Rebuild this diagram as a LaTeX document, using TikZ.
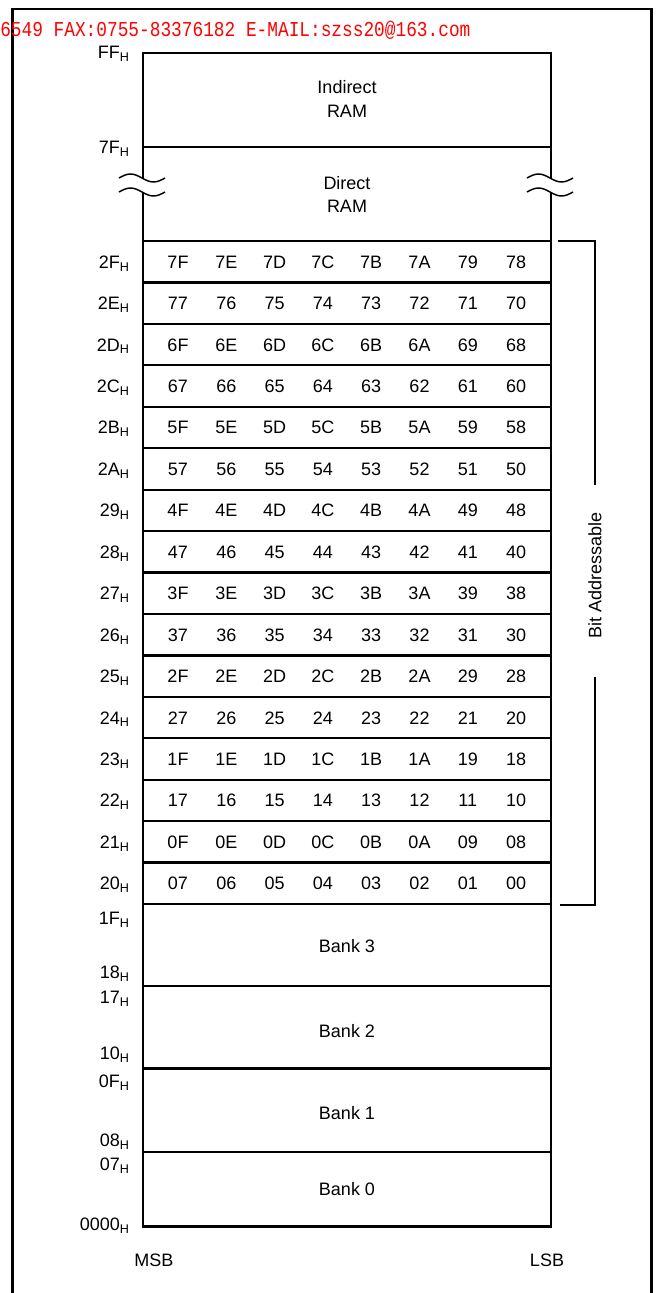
\documentclass[tikz,border=0pt]{standalone}
\usepackage{fontspec}
\usepackage{graphicx}
\setmainfont{Liberation Sans}
\newfontfamily\monofont{Liberation Mono}
\usetikzlibrary{positioning}

\newcommand{\hx}[1]{#1\textsubscript{H}}

\begin{document}
\begin{tikzpicture}[
    x=0.75pt, y=-0.75pt,
    every node/.style={font=\fontsize{13.5pt}{16pt}\selectfont},
    txt/.style={inner sep=0pt, text height=9.7pt, text depth=0pt},
    addr/.style={txt, anchor=east},
    area/.style={align=center, inner sep=0pt, font=\fontsize{13.5pt}{17.6pt}\selectfont},
    wall/.style={line width=1.7pt},
    brk/.style={line width=1.1pt},
    brace/.style={line width=1.5pt}
]
\useasboundingbox (0,0) rectangle (657,1293);

% Frame
\draw[line width=2pt] (12.5,1293) |- (651.5,9) -- (651.5,1293);

% Header
\node[anchor=west, inner sep=0pt, text=red, font=\monofont\fontsize{15.9pt}{18pt}\selectfont]
    (hdr) at (0,30.5) {\scalebox{0.84}[1]{6549 FAX:0755-83376182 E-MAIL:szss20@163.com}};

% RAM box and rows
\draw[wall] (143,53) rectangle (551,1226.5);
\foreach \y in {147,986,1068.5,1152}
    \draw[wall] (143,\y) -- (551,\y);
\foreach \k in {0,...,16}
    \draw[wall] (143,{241+41.44*\k}) -- (551,{241+41.44*\k});

% Break marks
\foreach \ex in {143,551}{
    \fill[white] ({\ex-24},178) sin ({\ex-12.5},174) cos ({\ex-1},178) sin ({\ex+10.5},182) cos ({\ex+22},178)
        -- ({\ex+22},192) sin ({\ex+10.5},196) cos ({\ex-1},192) sin ({\ex-12.5},188) cos ({\ex-24},192) -- cycle;
    \draw[brk] ({\ex-24},178) sin ({\ex-12.5},174) cos ({\ex-1},178) sin ({\ex+10.5},182) cos ({\ex+22},178);
    \draw[brk] ({\ex-24},192) sin ({\ex-12.5},188) cos ({\ex-1},192) sin ({\ex+10.5},196) cos ({\ex+22},192);
}

% Areas
\node[area] (ind) at (347,99) {Indirect\\RAM};
\node[area] (dir) at (347,194.7) {Direct\\RAM};
\node[txt] (bank3) at (347,946) {Bank 3};
\node[txt] (bank2) at (347,1030.7) {Bank 2};
\node[txt] (bank1) at (347,1113) {Bank 1};
\node[txt] (bank0) at (347,1189) {Bank 0};

% Bit addresses
\foreach \k in {0,...,15}{
    \pgfmathsetmacro\yc{261.7+41.44*\k}
    \pgfmathtruncatemacro\byte{47-\k}
    \pgfmathparse{Hex(\byte)}\let\bytehex\pgfmathresult
    \node[addr] (a\bytehex) at (130,\yc) {\hx{\bytehex}};
    \foreach \j in {0,...,7}{
        \pgfmathtruncatemacro\bit{8*(15-\k)+7-\j}
        \pgfmathparse{Hex(\bit)}
        \ifnum\bit<16 \edef\bitlbl{0\pgfmathresult}\else\edef\bitlbl{\pgfmathresult}\fi
        \node[txt] (b\bitlbl) at ({178+48.3*\j},\yc) {\bitlbl};
    }
}

% Byte addresses
\foreach \lbl/\y in {FF/52,7F/147.5,1F/918,18/972,17/997,10/1053,0F/1081,08/1140,07/1164,0000/1224}
    \node[addr] (a\lbl) at (130,\y) {\hx{\lbl}};

% Bracket
\node[txt, rotate=90] (bitadr) at (595,575) {Bit Addressable};
\coordinate (bt) at (558,241);
\coordinate (bb) at (560,905);
\draw[brace] (bt) -| ([yshift=20pt]bitadr.east);
\draw[brace] ([yshift=-29pt]bitadr.west) |- (bb);

% Bit order
\node[txt] (msb) at (154,1260) {MSB};
\node[txt] (lsb) at (547,1260) {LSB};

\end{tikzpicture}
\end{document}
